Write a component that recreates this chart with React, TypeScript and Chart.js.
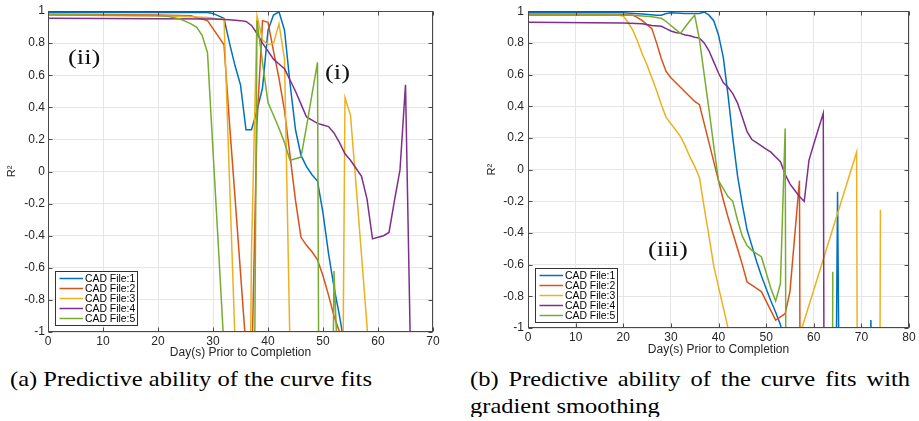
import React, { useEffect, useRef } from "react";
import { Chart, registerables } from "chart.js";

Chart.register(...registerables);

const SERIES_NAMES = ["CAD File:1", "CAD File:2", "CAD File:3", "CAD File:4", "CAD File:5"];
const SERIES_COLORS = ["#0072BD", "#D95319", "#EDB120", "#7E2F8E", "#77AC30"];
const X_TITLE = "Day(s) Prior to Completion";
const Y_TITLE = "R²";
const CAPTION_A = "(a) Predictive ability of the curve fits";
const CAPTION_B = "(b) Predictive ability of the curve fits with gradient smoothing";

// ---------- Panel (a): curve fits ----------
const aFile1Days = [0, 10, 20, 29, 30, 31, 32, 33, 34, 35, 36, 37, 38, 39, 40, 41, 42, 43, 44, 45, 46, 47, 48, 49, 50, 51, 52, 53, 54];
const aFile1R2 = [0.99, 0.99, 0.99, 0.99, 0.985, 0.97, 0.955, 0.8, 0.66, 0.54, 0.26, 0.26, 0.38, 0.52, 0.88, 0.975, 0.995, 0.88, 0.55, 0.26, 0.1, 0.03, -0.02, -0.06, -0.26, -0.51, -0.72, -0.9, -1.1];

const aFile2Days = [0, 20, 26, 27, 28, 29, 30, 31, 32, 33, 34, 35, 36, 37, 38, 39, 40, 41, 42, 43, 44, 45, 46, 47, 48, 49, 50, 51, 52, 53, 54];
const aFile2R2 = [0.98, 0.975, 0.97, 0.96, 0.95, 0.94, 0.89, 0.84, 0.79, 0.3, -0.16, -0.63, -1.1, -1.3, 0.3, 0.94, 0.93, 0.75, 0.58, 0.38, 0.1, -0.18, -0.41, -0.46, -0.5, -0.55, -0.65, -0.77, -0.9, -1.0, -1.2];

const aFile3Days = [0, 20, 25, 29, 31, 32, 33, 34, 35, 36, 37, 38, 39, 40, 41, 42, 43, 44, 45, 53, 54, 55, 56, 57, 58, 59];
const aFile3R2 = [0.975, 0.97, 0.965, 0.96, 0.95, 0.95, -0.05, -1.05, -3, -4, -0.5, 0.97, 0.82, 0.79, 0.8, 0.92, 0.7, -1.1, -4, -4, 0.46, 0.35, -0.08, -0.52, -0.96, -1.6];

const aFile4Days = [0, 20, 30, 33, 35, 36, 37, 38, 39, 40, 41, 42, 43, 44, 45, 46, 47, 48, 49, 50, 51, 52, 53, 54, 55, 56, 57, 58, 59, 60, 61, 62, 63, 64, 65, 66];
const aFile4R2 = [0.955, 0.952, 0.95, 0.945, 0.94, 0.935, 0.91, 0.86, 0.8, 0.75, 0.7, 0.67, 0.64, 0.57, 0.5, 0.42, 0.34, 0.32, 0.3, 0.29, 0.28, 0.24, 0.18, 0.11, 0.07, 0.02, -0.03, -0.17, -0.42, -0.41, -0.4, -0.38, -0.18, 0.01, 0.54, -1.3];

const aFile5Days = [0, 20, 22, 24, 25, 26, 27, 28, 29, 30, 31, 32, 33, 37, 38, 39, 40, 41, 42, 43, 44, 45, 46, 47, 48, 49, 50, 51, 52, 53];
const aFile5R2 = [0.975, 0.97, 0.965, 0.95, 0.935, 0.92, 0.9, 0.85, 0.74, 0.13, -0.48, -1.1, -4, -4, 0.94, 0.68, 0.43, 0.35, 0.27, 0.18, 0.07, 0.08, 0.09, 0.28, 0.48, 0.68, -8, -4, -0.62, -1.5];

// ---------- Panel (b): curve fits with gradient smoothing ----------
const bFile1Days = [0, 20, 24, 27, 28, 29, 30, 33, 36, 37, 38, 39, 40, 41, 42, 43, 44, 45, 46, 47, 48, 49, 50, 51, 52, 53, 54, 64, 65, 66, 71, 72, 73];
const bFile1R2 = [0.99, 0.99, 0.983, 0.975, 0.975, 0.985, 0.99, 0.985, 0.985, 0.995, 0.975, 0.94, 0.85, 0.71, 0.47, 0.2, -0.04, -0.22, -0.38, -0.48, -0.58, -0.67, -0.75, -0.83, -0.9, -0.98, -1.1, -4, -0.14, -4, -4, -0.95, -4];

const bFile2Days = [0, 20, 22, 23, 24, 25, 26, 27, 28, 29, 30, 31, 32, 33, 34, 35, 36, 37, 38, 39, 40, 41, 42, 43, 44, 45, 46, 47, 48, 49, 50, 51, 52, 53, 54, 55, 56, 57, 58];
const bFile2R2 = [0.98, 0.978, 0.975, 0.96, 0.94, 0.915, 0.89, 0.8, 0.7, 0.62, 0.58, 0.55, 0.52, 0.49, 0.46, 0.43, 0.41, 0.29, 0.17, 0.05, -0.07, -0.19, -0.3, -0.4, -0.5, -0.6, -0.71, -0.73, -0.75, -0.77, -0.83, -0.89, -0.95, -0.93, -0.91, -0.77, -0.42, -0.07, -10];

const bFile3Days = [0, 19, 20, 21, 22, 23, 24, 25, 26, 27, 28, 29, 30, 31, 32, 33, 34, 35, 36, 37, 38, 39, 40, 41, 42, 43, 57, 69, 70, 73, 74];
const bFile3R2 = [0.975, 0.975, 0.97, 0.93, 0.88, 0.81, 0.73, 0.66, 0.58, 0.5, 0.41, 0.33, 0.29, 0.25, 0.21, 0.15, 0.08, 0.02, -0.05, -0.24, -0.42, -0.61, -0.74, -0.87, -1.0, -1.13, -1.05, 0.11, -10, -10, -0.255];

const bFile4Days = [0, 20, 24, 26, 28, 29, 30, 31, 32, 33, 34, 35, 36, 37, 38, 39, 40, 41, 42, 43, 44, 45, 46, 47, 48, 49, 50, 51, 52, 53, 54, 55, 56, 57, 58, 59, 60, 61, 62, 63];
const bFile4R2 = [0.93, 0.925, 0.92, 0.91, 0.905, 0.89, 0.875, 0.865, 0.86, 0.85, 0.845, 0.835, 0.83, 0.8, 0.75, 0.68, 0.61, 0.55, 0.52, 0.48, 0.42, 0.33, 0.24, 0.19, 0.17, 0.15, 0.13, 0.11, 0.08, 0.05, -0.03, -0.09, -0.13, -0.17, -0.2, 0.06, 0.16, 0.26, 0.355, -10];

const bFile5Days = [0, 22, 24, 26, 27, 28, 29, 30, 31, 32, 33, 34, 35, 36, 37, 38, 39, 40, 41, 42, 43, 44, 45, 46, 47, 48, 49, 50, 51, 52, 53, 54, 55, 63, 64];
const bFile5R2 = [0.975, 0.975, 0.97, 0.965, 0.96, 0.955, 0.935, 0.91, 0.885, 0.86, 0.9, 0.94, 0.975, 0.82, 0.6, 0.38, 0.15, -0.07, -0.12, -0.17, -0.2, -0.32, -0.42, -0.48, -0.51, -0.53, -0.55, -0.65, -0.75, -0.83, -0.72, 0.26, -10, -10, -0.645];

const A_DAYS = [aFile1Days, aFile2Days, aFile3Days, aFile4Days, aFile5Days];
const A_R2 = [aFile1R2, aFile2R2, aFile3R2, aFile4R2, aFile5R2];
const B_DAYS = [bFile1Days, bFile2Days, bFile3Days, bFile4Days, bFile5Days];
const B_R2 = [bFile1R2, bFile2R2, bFile3R2, bFile4R2, bFile5R2];

const SANS = "'Liberation Sans', Arial, Helvetica, sans-serif";
const SERIF = "'Liberation Serif', 'Times New Roman', Times, serif";
const AXIS_COLOR = "#4a4a4a";
const TEXT_COLOR = "#262626";
const GRID_COLOR = "#e6e6e6";

const framePlugin = {
  id: "matlabFrame",
  afterDatasetsDraw(chart: any, _args: any, opts: any) {
    const { ctx, chartArea: a, scales } = chart;
    const L = Math.round(a.left) + 0.5;
    const R = Math.round(a.right) - 0.5;
    const T = Math.round(a.top) + 0.5;
    const B = Math.round(a.bottom) - 0.5;
    ctx.save();
    ctx.strokeStyle = AXIS_COLOR;
    ctx.lineWidth = 1;
    ctx.beginPath();
    const tl = 4;
    scales.x.ticks.forEach((t: any) => {
      const px = Math.round(scales.x.getPixelForValue(t.value)) + 0.5;
      ctx.moveTo(px, B);
      ctx.lineTo(px, B - tl);
      ctx.moveTo(px, T);
      ctx.lineTo(px, T + tl);
    });
    scales.y.ticks.forEach((t: any) => {
      const py = Math.round(scales.y.getPixelForValue(t.value)) + 0.5;
      ctx.moveTo(L, py);
      ctx.lineTo(L + tl, py);
      ctx.moveTo(R, py);
      ctx.lineTo(R - tl, py);
    });
    ctx.stroke();
    ctx.strokeRect(L, T, R - L, B - T);

    // legend box inside the axes, bottom-left
    const bw = 82;
    const bh = 54;
    const bx = Math.round(a.left + opts.dx) + 0.5;
    const by = Math.round(a.bottom - opts.dy - bh) + 0.5;
    ctx.fillStyle = "#ffffff";
    ctx.fillRect(bx, by, bw, bh);
    ctx.strokeStyle = "#333333";
    ctx.lineWidth = 1;
    ctx.strokeRect(bx, by, bw, bh);
    ctx.font = `10.4px ${SANS}`;
    ctx.textBaseline = "middle";
    ctx.textAlign = "left";
    chart.data.datasets.forEach((ds: any, i: number) => {
      const ry = by + 7 + 10 * i;
      ctx.strokeStyle = ds.borderColor;
      ctx.lineWidth = 1.5;
      ctx.beginPath();
      ctx.moveTo(bx + 4, ry);
      ctx.lineTo(bx + 27.5, ry);
      ctx.stroke();
      ctx.fillStyle = "#000000";
      ctx.fillText(ds.label, bx + 29.5, ry + 0.5);
    });
    ctx.restore();
  },
};

type PanelCfg = {
  days: number[][];
  values: number[][];
  xMax: number;
  width: number;
  left: number;
  padRight: number;
  yWidth: number;
  xHeight: number;
  yTickPad: number;
  yTitlePad: number;
  xTitlePadBottom: number;
  legendDx: number;
  legendDy: number;
};

function fmt(v: any) {
  const n = Math.round(Number(v) * 10) / 10;
  return n === 0 ? "0" : String(n);
}

function Panel({ cfg }: { cfg: PanelCfg }) {
  const ref = useRef<HTMLCanvasElement>(null);
  useEffect(() => {
    const datasets = cfg.days.map((d, i) => ({
      label: SERIES_NAMES[i],
      data: d.map((x, j) => ({ x, y: cfg.values[i][j] })),
      borderColor: SERIES_COLORS[i],
      backgroundColor: SERIES_COLORS[i],
      borderWidth: 1.5,
      pointRadius: 0,
      tension: 0,
      fill: false,
      order: 4 - i,
      clip: 0,
    }));
    const chart = new Chart(ref.current as HTMLCanvasElement, {
      type: "line",
      data: { datasets },
      plugins: [framePlugin],
      options: {
        responsive: false,
        animation: false,
        devicePixelRatio: 1,
        layout: { padding: { top: 11, right: cfg.padRight, left: 0, bottom: 0 } },
        plugins: {
          legend: { display: false },
          tooltip: { enabled: false },
          matlabFrame: { dx: cfg.legendDx, dy: cfg.legendDy },
        } as any,
        scales: {
          x: {
            type: "linear",
            min: 0,
            max: cfg.xMax,
            border: { display: false },
            grid: { color: GRID_COLOR, lineWidth: 1, drawTicks: false },
            ticks: {
              stepSize: 10,
              padding: 2,
              color: TEXT_COLOR,
              font: { family: SANS, size: 12 },
              maxRotation: 0,
              autoSkip: false,
            },
            title: {
              display: true,
              text: X_TITLE,
              color: TEXT_COLOR,
              font: { family: SANS, size: 12 },
              padding: { top: 0, bottom: cfg.xTitlePadBottom },
            },
            afterFit: (s: any) => {
              s.height = cfg.xHeight;
            },
          },
          y: {
            type: "linear",
            min: -1,
            max: 1,
            border: { display: false },
            grid: { color: GRID_COLOR, lineWidth: 1, drawTicks: false },
            ticks: {
              stepSize: 0.2,
              padding: cfg.yTickPad,
              color: TEXT_COLOR,
              font: { family: SANS, size: 12 },
              autoSkip: false,
              callback: (v: any) => fmt(v),
            },
            title: {
              display: true,
              text: Y_TITLE,
              color: TEXT_COLOR,
              font: { family: SANS, size: 11 },
              padding: { top: cfg.yTitlePad, bottom: 0 },
            },
            afterFit: (s: any) => {
              s.width = cfg.yWidth;
            },
          },
        },
      } as any,
    });
    return () => chart.destroy();
  }, []);
  return (
    <canvas
      ref={ref}
      width={cfg.width}
      height={360}
      style={{ position: "absolute", left: cfg.left, top: 0, width: cfg.width, height: 360 }}
    />
  );
}

const PANEL_A: PanelCfg = {
  days: A_DAYS,
  values: A_R2,
  xMax: 70,
  width: 450,
  left: 0,
  padRight: 17,
  yWidth: 48,
  xHeight: 28,
  yTickPad: 3,
  yTitlePad: 5,
  xTitlePadBottom: 0,
  legendDx: 7,
  legendDy: 7,
};

const PANEL_B: PanelCfg = {
  days: B_DAYS,
  values: B_R2,
  xMax: 80,
  width: 459,
  left: 460,
  padRight: 10,
  yWidth: 68,
  xHeight: 32,
  yTickPad: 4,
  yTitlePad: 25,
  xTitlePadBottom: 3,
  legendDx: 7,
  legendDy: 6,
};

const labelStyle = (left: number, top: number): React.CSSProperties => ({
  position: "absolute",
  left,
  top,
  fontFamily: SERIF,
  fontSize: "26.5px",
  lineHeight: 1,
  color: "#111",
  transform: "scaleY(0.82)",
  transformOrigin: "top left",
  whiteSpace: "nowrap",
});

export default function App() {
  return (
    <div
      style={{
        position: "absolute",
        left: 0,
        top: 0,
        width: 919,
        height: 421,
        background: "#ffffff",
        overflow: "hidden",
      }}
    >
      <Panel cfg={PANEL_A} />
      <Panel cfg={PANEL_B} />
      <div style={labelStyle(68, 46)}>(ii)</div>
      <div style={labelStyle(325, 61)}>(i)</div>
      <div style={labelStyle(648, 238)}>(iii)</div>
      <div
        style={{
          position: "absolute",
          left: 10,
          top: 365,
          fontFamily: SERIF,
          fontSize: "24.5px",
          lineHeight: "33px",
          color: "#000",
          transform: "scaleY(0.82)",
          transformOrigin: "top left",
          whiteSpace: "nowrap",
        }}
      >
        {CAPTION_A}
      </div>
      <div
        style={{
          position: "absolute",
          left: 470,
          top: 365,
          width: 440,
          fontFamily: SERIF,
          fontSize: "24.5px",
          lineHeight: "33px",
          color: "#000",
          textAlign: "justify",
          transform: "scaleY(0.82)",
          transformOrigin: "top left",
        }}
      >
        {CAPTION_B}
      </div>
    </div>
  );
}
